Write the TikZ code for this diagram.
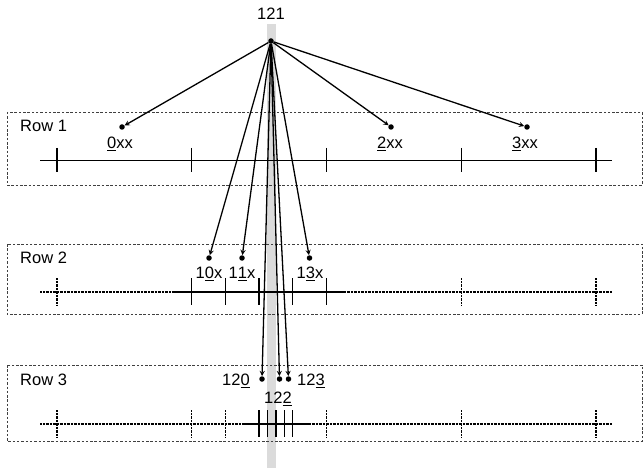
\documentclass[tikz,border=0pt]{standalone}
\usepackage{fontspec}
\setmainfont{Liberation Sans}
\newcommand{\ud}[1]{\underline{#1}}
\tikzset{
  rowbox/.style={draw=black!75, dash pattern=on 2.5pt off 1.8pt, line width=0.7pt},
  dot/.style={circle, fill, inner sep=0pt, minimum size=5.5pt},
  lbl/.style={inner sep=0pt},
  solidline/.style={line width=1.3pt},
  dotline/.style={line width=1.3pt, dash pattern=on 0.7pt off 0.7pt},
  pick/.style={->, line width=1.3pt}
}
\begin{document}
\begin{tikzpicture}[x=1pt, y=-1pt, >=stealth, font=\fontsize{16.5}{19}\selectfont]
	\useasboundingbox (0,0) rectangle (643,468);
	\fill[black!14] (267,24) rectangle (276,468);
	% the three rows
	\draw[rowbox] (7,112) rectangle (642,185);
	\draw[rowbox] (7,244) rectangle (642,314);
	\draw[rowbox] (7,365) rectangle (642,441);
	\node[lbl, anchor=west] (row1) at (20,126) {Row 1};
	\node[lbl, anchor=west] (row2) at (20,258) {Row 2};
	\node[lbl, anchor=west] (row3) at (20,380) {Row 3};
	% row 1
	\draw[solidline] (40,160.5) -- (612,160.5);
	\foreach \x in {57,191.75,326.5,461.25,596}
		\draw[solidline] (\x,148) -- (\x,172);
	% row 2
	\draw[dotline] (40,292) -- (612,292);
	\draw[solidline] (175,292) -- (345,292);
	\foreach \x in {191.75,225.44,259.13,292.81,326.5}
		\draw[solidline] (\x,278) -- (\x,305);
	\foreach \x in {57,461.25,596}
		\draw[dotline] (\x,278) -- (\x,305);
	% row 3
	\draw[dotline] (40,424) -- (612,424);
	\draw[solidline] (243,424) -- (310,424);
	\foreach \x in {259.13,267.55,275.97,284.39,292.81}
		\draw[solidline] (\x,410) -- (\x,437);
	\foreach \x in {57,191.75,225.44,326.5,461.25,596}
		\draw[dotline] (\x,410) -- (\x,437);
	% root and picks
	\node[dot] (root) at (271,41) {};
	\node[lbl] (t121) at (271,14) {121};
	\node[dot] (d0) at (122,127) {};
	\node[dot] (d2) at (391,127) {};
	\node[dot] (d3) at (527,127) {};
	\node[lbl] (t0) at (120,144) {\ud{0}xx};
	\node[lbl] (t2) at (390,144) {\ud{2}xx};
	\node[lbl] (t3) at (525,144) {\ud{3}xx};
	\node[dot] (d10) at (209,258) {};
	\node[dot] (d11) at (242,258) {};
	\node[dot] (d13) at (309.5,258) {};
	\node[lbl] (t10) at (209,274) {1\ud{0}x};
	\node[lbl] (t11) at (242,274) {1\ud{1}x};
	\node[lbl] (t13) at (310,274) {1\ud{3}x};
	\node[dot] (d120) at (262,379) {};
	\node[dot] (d122) at (279.5,379) {};
	\node[dot] (d123) at (288.5,379) {};
	\node[lbl] (t120) at (236,381) {12\ud{0}};
	\node[lbl] (t122) at (278,399) {12\ud{2}};
	\node[lbl] (t123) at (311,381) {12\ud{3}};
	\foreach \d in {d0,d2,d3,d10,d11,d13,d120,d122,d123}
		\draw[pick] (root) -- (\d);
\end{tikzpicture}
\end{document}
